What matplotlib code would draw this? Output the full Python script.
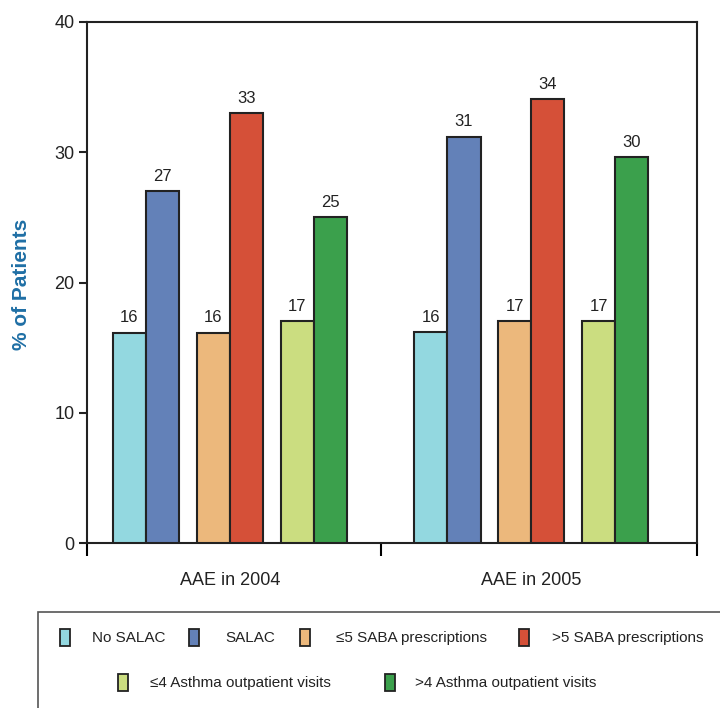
import matplotlib
matplotlib.use("Agg")
import matplotlib.pyplot as plt
from matplotlib.patches import Rectangle
import numpy as np

plt.rcParams['font.family'] = ['Liberation Sans', 'DejaVu Sans']

groups = ["AAE in 2004", "AAE in 2005"]
series = ["No SALAC", "SALAC", "\u22645 SABA prescriptions", ">5 SABA prescriptions",
          "\u22644 Asthma outpatient visits", ">4 Asthma outpatient visits"]
colors = ["#93d8e0", "#6381b8", "#ecb87c", "#d55038", "#cbdd80", "#3ba04c"]

heights_2004 = [16.15, 27.0, 16.15, 33.0, 17.05, 25.0]
heights_2005 = [16.2, 31.2, 17.05, 34.05, 17.05, 29.65]
labels_2004 = [16, 27, 16, 33, 17, 25]
labels_2005 = [16, 31, 17, 34, 17, 30]

heights = [heights_2004, heights_2005]
labels = [labels_2004, labels_2005]

fig = plt.figure(figsize=(7.2, 7.08), dpi=100)
ax = fig.add_axes([87 / 720, 1 - 543 / 708, 610 / 720, 521 / 708])

barw = 0.1095
pair_gap = 0.2786
for g in range(len(groups)):
    for i in range(len(series)):
        pair = i // 2
        side = -0.5 if i % 2 == 0 else 0.5
        x = g + (pair - 1) * pair_gap + side * barw
        ax.bar(x, heights[g][i], width=barw, color=colors[i], edgecolor="#222222",
               linewidth=1.5, zorder=3)
        ax.text(x, heights[g][i] + 0.55, str(labels[g][i]), ha="center", va="bottom",
                fontsize=12, color="#222222")

ax.set_xlim(-0.4743, 1.549)
ax.set_ylim(0, 40)
ax.set_yticks([0, 10, 20, 30, 40])
ax.tick_params(axis="y", direction="out", length=6, width=1.5, labelsize=13,
               colors="#222222", pad=3)
ax.set_xticks([-0.4743, 0.5, 1.549])
ax.set_xticklabels([])
ax.tick_params(axis="x", direction="out", length=9, width=1.5)
ax.set_xticks([0, 1], minor=True)
ax.set_xticklabels(groups, minor=True, fontsize=13, color="#222222")
ax.tick_params(axis="x", which="minor", length=0, pad=21)
for s in ax.spines.values():
    s.set_linewidth(1.5)
    s.set_color("#222222")

fig.text(22 / 720, 1 - 284 / 708, "% of Patients", rotation=90, ha="center", va="center",
         fontsize=15, fontweight="bold", color="#1f6fa5")

# legend box
fig.patches.append(Rectangle((38 / 720, -0.05), 0.99, (708 - 612) / 708 + 0.05,
                             transform=fig.transFigure, fill=False,
                             edgecolor="#555555", linewidth=1.2))
row1 = [(60, 92), (189, 225), (300, 336), (519, 552)]
row2 = [(118, 150), (385, 415)]
rows = [(638, row1, series[:4], colors[:4]), (683, row2, series[4:], colors[4:])]
for y, pos, names, cols in rows:
    for (px, tx), name, c in zip(pos, names, cols):
        fig.patches.append(Rectangle((px / 720, 1 - (y + 8) / 708), 10 / 720, 17 / 708,
                                     transform=fig.transFigure, facecolor=c,
                                     edgecolor="#222222", linewidth=1.3))
        fig.text(tx / 720, 1 - y / 708, name, ha="left", va="center", fontsize=11,
                 color="#222222")

fig.savefig("out.png", dpi=100)
